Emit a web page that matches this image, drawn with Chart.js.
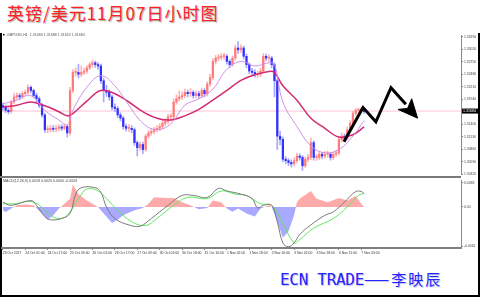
<!DOCTYPE html>
<html>
<head>
<meta charset="utf-8">
<script src="https://cdn.jsdelivr.net/npm/chart.js@4.4.0/dist/chart.umd.min.js"></script>
<style>
  html, body { margin: 0; padding: 0; background: #fff; }
  #wrap { position: relative; width: 480px; height: 297px; overflow: hidden; background: #fff; }
  #frame { position: absolute; left: 0; top: 33px; width: 476px; height: 262px;
           border-left: 2px solid #000; border-right: 2px solid #000; border-bottom: 2px solid #000; }
  #title { position: absolute; left: 7px; top: 3px; font: 17px "Noto Sans CJK SC"; line-height: 20px;
           color: #ff2323; letter-spacing: 1px; text-shadow: 1px 1px 1px #a8a8a8; white-space: nowrap; }
  #sign { position: absolute; left: 280px; top: 268px; color: #2424ff; line-height: 20px; white-space: nowrap;
          text-shadow: 1px 1px 1px #c0c0e0; }
  #sign .en { font: 16px "DejaVu Sans Mono"; letter-spacing: -0.3px; }
  #sign .cn { font: 15px "Noto Sans CJK SC"; letter-spacing: 2px; }
  #sep { position: absolute; left: 0; top: 176px; width: 461px; height: 2px; background: #7a7a7a; }
  #main { position: absolute; left: 0; top: 32px; }
  #macd { position: absolute; left: 0; top: 177px; }
</style>
</head>
<body>
<div id="wrap">
  <div id="frame"></div>
  <canvas id="main" width="478" height="146"></canvas>
  <canvas id="macd" width="478" height="80"></canvas>
  <div id="sep"></div>
  <div id="title">英镑/美元11月07日小时图</div>
  <div id="sign"><span class="en">ECN TRADE</span><span class="cn">——李映辰</span></div>
</div>
<script>
// GBPUSD H1, one entry per 2 hours
const firstOpen = 1.3180;
const closes = [
  1.3177,1.3170,1.3167,1.3188,1.3199,1.3202,1.3199,1.3206,1.3209,1.3220,
  1.3213,1.3202,1.3195,1.3181,1.3160,1.3128,1.3128,1.3131,1.3129,1.3131,
  1.3134,1.3131,1.3135,1.3121,1.3213,1.3252,1.3252,1.3248,1.3252,1.3255,
  1.3262,1.3269,1.3273,1.3269,1.3266,1.3234,1.3213,1.3209,1.3199,1.3177,
  1.3174,1.3160,1.3153,1.3135,1.3131,1.3131,1.3128,1.3100,1.3089,1.3096,
  1.3085,1.3114,1.3121,1.3124,1.3128,1.3131,1.3135,1.3142,1.3146,1.3156,
  1.3156,1.3188,1.3195,1.3199,1.3202,1.3209,1.3206,1.3209,1.3202,1.3206,
  1.3202,1.3213,1.3206,1.3227,1.3241,1.3276,1.3283,1.3285,1.3287,1.3287,
  1.3276,1.3269,1.3283,1.3305,1.3301,1.3305,1.3287,1.3269,1.3255,1.3252,
  1.3248,1.3248,1.3255,1.3287,1.3283,1.3283,1.3269,1.3234,1.3114,1.3107,
  1.3064,1.3061,1.3057,1.3054,1.3061,1.3071,1.3068,1.3050,1.3064,1.3068,
  1.3100,1.3068,1.3068,1.3075,1.3071,1.3075,1.3075,1.3068,1.3075,1.3078,
  1.3107,1.3114,1.3110,1.3128,1.3142,1.3163,1.3170,1.3170,1.3172,1.3167
];
const highs = [
  1.3186,1.3181,1.3175,1.3192,1.3206,1.3208,1.3207,1.3211,1.3214,1.3225,
  1.3223,1.3216,1.3207,1.3199,1.3185,1.3164,1.3136,1.3138,1.3137,1.3137,
  1.3139,1.3139,1.3141,1.3138,1.3220,1.3258,1.3262,1.3270,1.3266,1.3262,
  1.3267,1.3274,1.3279,1.3277,1.3274,1.3270,1.3240,1.3224,1.3214,1.3203,
  1.3184,1.3178,1.3165,1.3157,1.3140,1.3139,1.3137,1.3132,1.3104,1.3102,
  1.3101,1.3118,1.3126,1.3130,1.3133,1.3137,1.3141,1.3148,1.3152,1.3162,
  1.3163,1.3195,1.3203,1.3212,1.3210,1.3216,1.3214,1.3217,1.3213,1.3212,
  1.3211,1.3218,1.3217,1.3232,1.3248,1.3282,1.3289,1.3291,1.3293,1.3294,
  1.3291,1.3280,1.3288,1.3311,1.3319,1.3312,1.3309,1.3292,1.3273,1.3261,
  1.3258,1.3255,1.3261,1.3293,1.3292,1.3290,1.3287,1.3273,1.3238,1.3125,
  1.3112,1.3070,1.3066,1.3063,1.3067,1.3077,1.3076,1.3072,1.3069,1.3074,
  1.3110,1.3104,1.3075,1.3081,1.3079,1.3081,1.3082,1.3079,1.3080,1.3084,
  1.3112,1.3121,1.3119,1.3134,1.3148,1.3168,1.3175,1.3175,1.3176,1.3174
];
const lows = [
  1.3170,1.3165,1.3162,1.3164,1.3185,1.3194,1.3193,1.3196,1.3202,1.3205,
  1.3208,1.3197,1.3188,1.3176,1.3155,1.3122,1.3121,1.3123,1.3124,1.3124,
  1.3126,1.3126,1.3127,1.3112,1.3116,1.3208,1.3244,1.3240,1.3243,1.3247,
  1.3250,1.3258,1.3264,1.3263,1.3259,1.3228,1.3188,1.3200,1.3192,1.3171,
  1.3167,1.3154,1.3147,1.3129,1.3125,1.3124,1.3121,1.3094,1.3071,1.3083,
  1.3076,1.3081,1.3109,1.3116,1.3119,1.3123,1.3126,1.3130,1.3137,1.3141,
  1.3148,1.3151,1.3183,1.3190,1.3193,1.3197,1.3199,1.3200,1.3196,1.3197,
  1.3195,1.3197,1.3199,1.3201,1.3222,1.3236,1.3270,1.3277,1.3279,1.3280,
  1.3270,1.3262,1.3265,1.3279,1.3293,1.3295,1.3281,1.3262,1.3249,1.3245,
  1.3242,1.3241,1.3243,1.3251,1.3277,1.3276,1.3262,1.3199,1.3085,1.3095,
  1.3058,1.3054,1.3050,1.3047,1.3049,1.3056,1.3062,1.3040,1.3046,1.3059,
  1.3063,1.3062,1.3061,1.3063,1.3065,1.3066,1.3068,1.3062,1.3063,1.3070,
  1.3073,1.3101,1.3104,1.3106,1.3123,1.3138,1.3158,1.3164,1.3166,1.3163
];
const lastPrice = 1.31684;

// moving averages
const fastBars = [0,5,10,15,20,23,25,30,35,40,45,50,55,60,65,70,75,80,85,90,95,97,100,105,110,115,120,125,129];
const fastMA = [1.3184,1.3192,1.3202,1.3170,1.3149,1.3139,1.3170,1.3220,1.3245,1.3223,1.3181,1.3142,1.3128,1.3141,1.3181,1.3195,1.3216,1.3259,1.3276,1.3266,1.3273,1.3269,1.3188,1.3135,1.3093,1.3078,1.3085,1.3114,1.3148];
const slowBars = [0,5,10,15,20,23,25,30,35,40,45,50,55,60,65,70,75,80,85,90,95,97,100,105,110,115,120,125,129];
const slowMA = [1.3177,1.3181,1.3188,1.3180,1.3167,1.3158,1.3163,1.3190,1.3213,1.3206,1.3188,1.3167,1.3153,1.3149,1.3158,1.3172,1.3192,1.3213,1.3235,1.3247,1.3254,1.3252,1.3223,1.3192,1.3153,1.3131,1.3112,1.3117,1.3134];

// forecast arrow (bar index, price)
const arrowBars = [121.8, 128.6, 133.2, 138.6, 143.9];
const arrowPrices = [1.3102, 1.3176, 1.3145, 1.3219, 1.3183];
const headBars = [141.1, 148.1, 146.0, 144.5, 141.1];
const headPrices = [1.3172, 1.3153, 1.3195, 1.3174, 1.3172];

const priceTicks = [1.3329, 1.3302, 1.3275, 1.3248, 1.3221, 1.3194, 1.3140, 1.3113, 1.3086, 1.3059, 1.3032];

// MACD panel
const histBars = [0,1,3,5,8,11,12,14,16,18,20,22,24,25,27,30,32,34,36,39,41,43,47,50,52,54,58,61,64,67,70,73,75,78,80,82,84,87,90,92,95,96,98,100,102,104,105,106,110,112,116,120,123,126,128,129];
const histVals = [-0.0005,-0.0008,-0.00025,0.00025,0.0004,0.00025,-0.00015,-0.001,-0.002,-0.0013,-0.00025,0.0005,0.0013,0.0035,0.002,0.001,0.0005,0,-0.001,-0.0025,-0.002,-0.0013,-0.0005,-0.00015,0.0005,0.0015,0.0014,0.0014,0.00075,0.00025,-0.00035,-0.00015,0.001,0.00075,-0.00025,-0.00075,-0.00025,-0.001,-0.0015,-0.00025,0.00025,0,-0.0023,-0.0048,-0.0038,-0.0013,0.00075,0.0013,0.0025,0.0013,0.00075,0.0014,0.001,0.0017,0.0005,0];
const greyBars = [0,3,10,12,15,17,21,24,26,28,33,35,37,40,45,49,53,59,64,68,73,77,80,85,89,91,93,96,98,100,102,104,106,110,115,118,122,126,128,129];
const greyVals = [0.00076,0.00025,0.001,0.00025,-0.0015,-0.002,-0.0018,-0.001,0.002,0.003,0.003,0.0023,0,-0.0018,-0.0028,-0.003,-0.0018,0.00025,0.0018,0.0018,0.0015,0.0029,0.0025,0.002,0.0013,-0.00015,0.00025,0.00025,-0.0023,-0.0056,-0.0062,-0.0056,-0.0043,-0.0028,-0.0013,-0.00076,0.00076,0.0024,0.0024,0.0021];
const greenBars = [0,4,11,17,20,23,27,30,34,37,41,46,51,55,61,66,73,78,83,87,92,96,99,104,106,111,118,123,127,129];
const greenVals = [0.0005,0.0005,0.00076,-0.0013,-0.0018,-0.0013,0.0013,0.0028,0.0025,0.0013,-0.0005,-0.0023,-0.0029,-0.0018,0.00025,0.0015,0.0013,0.0025,0.002,0.0018,0.0005,0.00025,-0.0018,-0.0056,-0.0051,-0.0033,-0.0018,0,0.0018,0.0021];
const macdTicks = [0.0038, 0, -0.0061];
const macdTickLabels = ['0.0038', '0.00', '-0.0061'];

// time axis
const labelBars = [0,8,16,24,32,40,48,56,64,72,80,88,96,104,112,120,128];
const timeLabels = ['23 Oct 2017','24 Oct 01:00','24 Oct 17:00','25 Oct 09:00','26 Oct 01:00','26 Oct 17:00','27 Oct 09:00','30 Oct 02:00','30 Oct 18:00','31 Oct 10:00','1 Nov 02:00','1 Nov 18:00','2 Nov 10:00','3 Nov 02:00','3 Nov 18:00','6 Nov 11:00','7 Nov 03:00'];

const mainHeader = 'GBPUSD,H1  1.31684 1.31688 1.31652 1.31684';
const macdHeader = 'MACD(12,26,9) 0.0018 0.0020 0.0000 -0.0003';

const opens = closes.map((c, i) => i ? closes[i - 1] : firstOpen);
const isUp = i => closes[i] >= opens[i];
const pts = (xs, ys) => xs.map((x, i) => ({x: x, y: ys[i]}));
const xMin = -0.3, xMax = 163.6;
const tinyFont = {size: 3.4, family: 'Liberation Sans'};

const mainDeco = {
  id: 'mainDeco',
  afterDraw(chart) {
    const g = chart.ctx;
    const y = chart.scales.y.getPixelForValue(lastPrice);
    g.save();
    g.fillStyle = '#000';
    g.fillRect(462, y - 2.5, 16, 5);
    g.font = '3.6px "Liberation Sans"';
    g.textBaseline = 'middle';
    g.fillStyle = '#fff';
    g.fillText(lastPrice.toFixed(5), 463, y);
    g.fillStyle = '#000';
    g.fillRect(3, 2, 1.5, 1.5);
    g.fillStyle = '#555';
    g.fillText(mainHeader, 7, 3);
    g.restore();
  }
};

const macdDeco = {
  id: 'macdDeco',
  afterDraw(chart) {
    const g = chart.ctx;
    g.save();
    g.font = '3.6px "Liberation Sans"';
    g.textBaseline = 'middle';
    g.fillStyle = '#444';
    g.fillText(macdHeader, 3, 4);
    g.restore();
  }
};

const baseOpts = {
  responsive: false,
  animation: false,
  events: [],
  plugins: {legend: {display: false}, tooltip: {enabled: false}}
};

new Chart(document.getElementById('main'), {
  type: 'bar',
  data: {
    datasets: [
      {type: 'line', data: pts(arrowBars, arrowPrices), borderColor: '#000', borderWidth: 3,
       pointRadius: 0, borderJoinStyle: 'miter', order: 0},
      {type: 'line', data: pts(headBars, headPrices), borderColor: '#000', borderWidth: 1,
       backgroundColor: '#000', fill: 'shape', pointRadius: 0, order: 0},
      {type: 'line', data: pts(fastBars, fastMA), borderColor: '#cf8fe8', borderWidth: 1,
       pointRadius: 0, tension: 0.4, order: 1},
      {type: 'line', data: pts(slowBars, slowMA), borderColor: '#d42a72', borderWidth: 1.5,
       pointRadius: 0, tension: 0.4, order: 1},
      {data: closes.map((c, i) => ({x: i, y: [opens[i], c]})),
       backgroundColor: ctx => isUp(ctx.dataIndex) ? '#ff7a7a' : '#3030ff',
       barThickness: 1.6, minBarLength: 1, grouped: false, order: 2},
      {data: closes.map((c, i) => ({x: i, y: [lows[i], highs[i]]})),
       backgroundColor: ctx => isUp(ctx.dataIndex) ? '#ffb4b4' : '#a8a8ff',
       barThickness: 1, grouped: false, order: 3},
      {type: 'line', data: [{x: xMin, y: lastPrice}, {x: xMax, y: lastPrice}], borderColor: '#ffc4d8',
       borderWidth: 1, pointRadius: 0, order: 4}
    ]
  },
  options: Object.assign({}, baseOpts, {
    layout: {padding: {left: 2, top: 1, right: 0, bottom: 2}},
    scales: {
      x: {type: 'linear', min: xMin, max: xMax, display: false, offset: false},
      y: {
        position: 'right', min: 1.3030, max: 1.3333,
        afterBuildTicks: s => { s.ticks = priceTicks.map(v => ({value: v})); },
        afterFit: s => { s.width = 17; },
        ticks: {font: tinyFont, color: '#444', padding: 1, callback: v => v.toFixed(5)},
        grid: {drawOnChartArea: false, tickLength: 2, color: '#888'},
        border: {color: '#8a8a8a', width: 1}
      }
    }
  }),
  plugins: [mainDeco]
});

new Chart(document.getElementById('macd'), {
  type: 'line',
  data: {
    datasets: [
      {data: pts(greyBars, greyVals), borderColor: '#7a7a7a', borderWidth: 1, pointRadius: 0, tension: 0.4, order: 0},
      {data: pts(greenBars, greenVals), borderColor: '#5ee85e', borderWidth: 1, pointRadius: 0, tension: 0.4, order: 1},
      {data: pts(histBars, histVals), borderWidth: 0, pointRadius: 0,
       fill: {target: 'origin', above: '#ffaaaa', below: '#a9a9ff'}, order: 2}
    ]
  },
  options: Object.assign({}, baseOpts, {
    layout: {padding: {left: 2, top: 1, right: 0, bottom: 0}},
    scales: {
      x: {
        type: 'linear', min: xMin, max: xMax,
        afterBuildTicks: s => { s.ticks = labelBars.map(v => ({value: v})); },
        afterFit: s => { s.height = 9; },
        ticks: {autoSkip: false, maxRotation: 0, minRotation: 0, align: 'start', font: tinyFont,
                color: '#333', padding: 1, callback: (v, i) => timeLabels[i]},
        grid: {drawOnChartArea: false, tickLength: 2, color: '#888'},
        border: {color: '#808080', width: 2}
      },
      y: {
        position: 'right', min: -0.0064, max: 0.0042,
        afterBuildTicks: s => { s.ticks = macdTicks.map(v => ({value: v})); },
        afterFit: s => { s.width = 17; },
        ticks: {font: tinyFont, color: '#444', padding: 1, callback: (v, i) => macdTickLabels[i]},
        grid: {drawOnChartArea: false, tickLength: 2, color: '#888'},
        border: {color: '#8a8a8a', width: 1}
      }
    }
  }),
  plugins: [macdDeco]
});
</script>
</body>
</html>
